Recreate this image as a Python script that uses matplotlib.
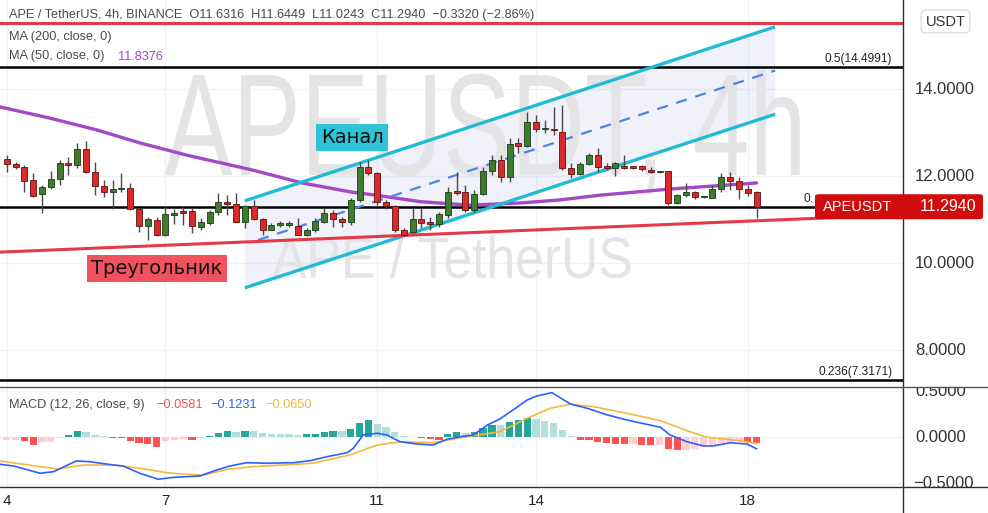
import numpy as np
import matplotlib.pyplot as plt
from matplotlib.lines import Line2D
from matplotlib.patches import FancyBboxPatch, PathPatch, Polygon
from matplotlib.textpath import TextPath
from matplotlib.font_manager import FontProperties
from matplotlib.transforms import Affine2D, blended_transform_factory

# 4h candles, index 0 = day 4 00:00
opens = [12.38, 12.28, 12.20, 11.91, 11.59, 11.74, 11.92, 12.31, 12.25, 12.62,
         12.10, 11.78, 11.63, 11.69, 11.72, 11.23, 10.86, 11.00, 10.64, 11.11,
         11.19, 11.19, 10.83, 10.93, 11.17, 11.40, 11.36, 10.95, 11.32, 11.01,
         10.76, 10.88, 10.88, 10.86, 10.64, 10.75, 10.95, 11.14, 11.01, 10.95,
         11.44, 12.20, 12.06, 11.40, 11.31, 10.77, 10.71, 11.01, 10.95, 10.89,
         11.10, 11.63, 11.63, 11.22, 11.59, 12.12, 12.37, 11.98, 12.75, 12.70,
         13.24, 13.07, 13.06, 13.02, 12.18, 12.04, 12.28, 12.48, 12.23, 12.18,
         12.23, 12.21, 12.23, 12.14, 12.09, 12.12, 11.37, 11.56, 11.64, 11.51,
         11.50, 11.69, 11.97, 11.89, 11.69, 11.6316]
highs = [12.48, 12.33, 12.25, 12.06, 11.79, 12.12, 12.37, 12.44, 12.75, 12.81,
         12.33, 11.91, 11.91, 12.06, 11.83, 11.24, 11.05, 11.05, 11.28, 11.24,
         11.28, 11.26, 11.03, 11.22, 11.62, 11.56, 11.60, 11.33, 11.45, 11.03,
         10.91, 10.97, 10.96, 11.03, 10.80, 11.03, 11.26, 11.22, 11.06, 11.49,
         12.33, 12.37, 12.09, 11.45, 11.33, 10.81, 11.26, 11.26, 11.06, 11.18,
         11.75, 12.10, 11.79, 11.68, 12.21, 12.48, 12.48, 12.88, 12.88, 13.48,
         13.40, 13.29, 13.59, 13.63, 12.29, 12.33, 12.52, 12.64, 12.29, 12.33,
         12.48, 12.24, 12.25, 12.20, 12.12, 12.12, 11.59, 11.85, 11.66, 11.53,
         11.79, 12.06, 12.10, 11.98, 11.79, 11.6449]
lows = [12.09, 12.15, 11.63, 11.52, 11.15, 11.70, 11.79, 12.02, 12.18, 12.06,
        11.56, 11.52, 11.24, 11.63, 11.22, 10.72, 10.53, 10.62, 10.62, 10.90,
        10.87, 10.68, 10.76, 10.87, 11.10, 11.10, 10.95, 10.80, 10.99, 10.64,
        10.76, 10.82, 10.82, 10.64, 10.62, 10.72, 10.93, 10.83, 10.83, 10.87,
        11.41, 12.02, 11.33, 11.24, 10.72, 10.61, 10.68, 10.80, 10.76, 10.83,
        11.03, 11.56, 11.18, 11.18, 11.56, 12.02, 11.87, 11.87, 12.52, 12.67,
        13.02, 12.98, 12.94, 12.14, 11.95, 12.02, 12.25, 12.10, 12.14, 12.00,
        12.15, 12.17, 12.12, 12.06, 12.06, 11.33, 11.36, 11.52, 11.46, 11.49,
        11.49, 11.64, 11.68, 11.46, 11.54, 11.0243]
closes = [12.28, 12.20, 11.89, 11.55, 11.74, 11.92, 12.29, 12.25, 12.62, 12.10,
          11.78, 11.63, 11.69, 11.70, 11.23, 10.86, 11.01, 10.64, 11.12, 11.14,
          11.15, 10.85, 10.95, 11.18, 11.40, 11.35, 10.95, 11.32, 11.01, 10.76,
          10.87, 10.88, 10.88, 10.64, 10.76, 10.97, 11.14, 11.01, 10.95, 11.45,
          12.20, 12.06, 11.41, 11.32, 10.76, 10.64, 11.01, 10.93, 10.89, 11.12,
          11.63, 11.62, 11.22, 11.59, 12.12, 12.37, 11.98, 12.73, 12.70, 13.24,
          13.07, 13.07, 13.05, 12.18, 12.04, 12.28, 12.48, 12.21, 12.18, 12.29,
          12.18, 12.19, 12.15, 12.09, 12.09, 11.37, 11.56, 11.64, 11.51, 11.51,
          11.69, 11.97, 11.89, 11.69, 11.62, 11.2940]

day_ticks = [0, 18, 42, 60, 84]
day_labels = ['4', '7', '11', '14', '18']
price_ticks = [14, 12, 10, 8]
price_labels = ['14.0000', '12.0000', '10.0000', '8.0000']
macd_ticks = [0.5, 0.0, -0.5]
macd_labels = ['0.5000', '0.0000', '\u22120.5000']

# MA 50 (sampled along the curve)
ma_x = [-0.8, 4.9, 10.2, 15.1, 20.4, 27.8, 33.5, 39.1, 41.8, 46.9, 52.5, 58.2, 62.7, 67.3, 75.2, 85]
ma_y = [13.59, 13.33, 13.06, 12.76, 12.48, 12.14, 11.84, 11.63, 11.56, 11.41, 11.33, 11.38,
        11.45, 11.56, 11.70, 11.84]

# MACD histogram, one bar per candle
hist = [-0.025, -0.022, -0.043, -0.080, -0.051, -0.051, -0.011, 0.029, 0.073, 0.058,
        0.029, 0.014, -0.008, -0.011, -0.036, -0.062, -0.068, -0.098, -0.043, -0.025,
        -0.014, -0.025, -0.008, 0.018, 0.054, 0.073, 0.062, 0.073, 0.073, 0.054,
        0.036, 0.036, 0.036, 0.029, 0.036, 0.038, 0.058, 0.073, 0.073, 0.095,
        0.155, 0.185, 0.149, 0.112, 0.058, 0.018, 0.005, -0.008, -0.014, -0.025,
        0.040, 0.065, 0.047, 0.065, 0.101, 0.138, 0.134, 0.171, 0.188, 0.207,
        0.199, 0.182, 0.152, 0.079, 0.014, -0.029, -0.031, -0.047, -0.065, -0.067,
        -0.076, -0.076, -0.084, -0.086, -0.084, -0.127, -0.138, -0.138, -0.127, -0.101,
        -0.084, -0.065, -0.047, -0.036, -0.047, -0.058]
macd_x = [-0.8, 0.8, 3.8, 5.3, 7.9, 9.4, 12.1, 13.2, 15.1, 17.2, 18.9, 21.9, 23.8, 25.3,
          27.2, 29.5, 32.5, 34.4, 36.3, 38.6, 39.3, 40.4, 42.0, 43.1, 44.6, 46.5, 48.3,
          49.9, 51.4, 52.9, 54.5, 55.9, 57.4, 59.0, 60.1, 61.8, 63.9, 65.8, 68.1, 70.3,
          74.1, 75.2, 77.1, 79.0, 80.1, 82.0, 83.9, 85.0]
macd_v = [-0.291, -0.310, -0.389, -0.372, -0.255, -0.263, -0.299, -0.310, -0.389, -0.454,
          -0.433, -0.418, -0.353, -0.310, -0.274, -0.280, -0.274, -0.252, -0.209, -0.165,
          -0.117, 0.027, 0.046, 0.027, -0.046, -0.071, -0.082, -0.020, 0.009, 0.027,
          0.136, 0.201, 0.299, 0.408, 0.451, 0.487, 0.364, 0.317, 0.245, 0.190,
          0.111, 0.027, -0.046, -0.092, -0.092, -0.057, -0.071, -0.1231]
sig_x = [-0.8, 3.8, 5.7, 8.7, 12.1, 15.1, 18.2, 20.4, 22.3, 25.0, 27.9, 31.3, 34.7, 38.9,
         42.0, 44.6, 48.3, 52.2, 55.9, 59.0, 61.6, 63.9, 66.5, 70.3, 74.1, 77.1, 79.4,
         82.4, 85.0]
sig_v = [-0.255, -0.317, -0.342, -0.299, -0.299, -0.335, -0.383, -0.400, -0.408, -0.346,
         -0.317, -0.299, -0.280, -0.190, -0.082, -0.046, -0.057, 0.009, 0.063, 0.209,
         0.317, 0.361, 0.335, 0.263, 0.183, 0.074, 0.002, -0.027, -0.065]

# drawings
channel_x = [27.0, 87.1]
channel_upper = [11.43, 15.43]
channel_lower = [9.43, 13.42]
channel_mid_start = 28.5
tri_top = 15.52
tri_low_x = [-0.76, 101.6]
tri_low_y = [10.25, 11.11]
fib_levels = [14.4991, 11.29, 7.3171]
fib_labels = ['0.5(14.4991)', '', '0.236(7.3171)']

W, H = 988, 513
FONT = 'Liberation Sans'
plt.rcParams['font.family'] = [FONT, 'DejaVu Sans']

fig = plt.figure(figsize=(W / 100, H / 100), dpi=100)
fig.patch.set_facecolor('white')

pane_bot = 386.5
ax = fig.add_axes([0, 1 - pane_bot / H, 903 / W, pane_bot / H])
axm = fig.add_axes([0, 1 - 487 / H, 903 / W, (487 - pane_bot) / H])
axr = fig.add_axes([903 / W, 1 - pane_bot / H, 85 / W, pane_bot / H])
axmr = fig.add_axes([903 / W, 1 - 487 / H, 85 / W, (487 - pane_bot) / H])

xlim = (-0.76, 101.6)
ylim = (7.161, 16.046)
mlim = (-0.538, 0.554)
for a in (ax, axm, axr, axmr):
    for s in a.spines.values():
        s.set_visible(False)
    a.set_facecolor('none')
ax.set_xlim(*xlim); ax.set_ylim(*ylim)
axm.set_xlim(*xlim); axm.set_ylim(*mlim)
axr.set_xlim(0, 1); axr.set_ylim(*ylim)
axmr.set_xlim(0, 1); axmr.set_ylim(*mlim)
for a in (ax, axr, axmr):
    a.set_xticks([]); a.set_yticks([])
axm.set_yticks([])

grid_c = '#f0f2f7'
for d in day_ticks:
    ax.axvline(d, color=grid_c, lw=1, zorder=0)
    axm.axvline(d, color=grid_c, lw=1, zorder=0)
for p in price_ticks:
    ax.axhline(p, color=grid_c, lw=1, zorder=0)
for m in macd_ticks:
    axm.axhline(m, color=grid_c, lw=1, zorder=0)

# watermark text
def watermark(s, x0, x1, ybase, ytop):
    fp = FontProperties(family=FONT)
    tp = TextPath((0, 0), s, size=1, prop=fp)
    ext = tp.get_extents()
    cap = TextPath((0, 0), 'A', size=1, prop=fp).get_extents().y1
    tr = Affine2D().translate(-ext.x0, 0).scale((x1 - x0) / ext.width, (ytop - ybase) / cap).translate(x0, ybase)
    ax.add_patch(PathPatch(tr.transform_path(tp), fc='#e4e4e6', ec='none', zorder=0.6))

watermark('APEUSDT, 4h', 17.9, 89.9, 12.02, 14.32)
watermark('APE / TetherUS', 30.1, 70.7, 9.66, 10.58)

# channel
cx = np.array(channel_x)
poly = Polygon([(cx[0], channel_lower[0]), (cx[1], channel_lower[1]),
                (cx[1], channel_upper[1]), (cx[0], channel_upper[0])],
               closed=True, fc='#5c6bc0', alpha=0.09, ec='none', zorder=0.5)
ax.add_patch(poly)
ax.plot(cx, channel_upper, color='#1fbcd3', lw=2.4, zorder=3, solid_capstyle='butt')
ax.plot(cx, channel_lower, color='#1fbcd3', lw=2.4, zorder=3, solid_capstyle='butt')
mid = (np.array(channel_upper) + np.array(channel_lower)) / 2
mx = np.array([channel_mid_start, cx[1]])
ax.plot(mx, np.interp(mx, cx, mid), color='#4f83e6', lw=1.6, ls=(0, (5, 4)), zorder=3)

# triangle
ax.axhline(tri_top, color='#e5394a', lw=2.2, zorder=4)
ax.plot(tri_low_x, tri_low_y, color='#e5394a', lw=2.2, zorder=3)

# fib levels
for lv, lab in zip(fib_levels, fib_labels):
    ax.axhline(lv, color='black', lw=1.8, zorder=2.5)
    if lab:
        ax.text(0.988, lv + 0.05, lab, transform=blended_transform_factory(ax.transAxes, ax.transData),
                ha='right', va='bottom', fontsize=8.6, color='#222')
ax.text(90.3, fib_levels[1] + 0.05, '0.', ha='left', va='bottom', fontsize=8.6, color='#222')

# MA50
ax.plot(ma_x, ma_y, color='#a449c6', lw=2.4, zorder=2.6, solid_capstyle='round')

# candles
idx = np.arange(len(opens))
o = np.array(opens); c = np.array(closes)
up = c >= o
body_lo = np.minimum(o, c)
body_h = np.maximum(np.abs(c - o), 0.035)
ax.vlines(idx, lows, highs, color='#4a4a4a', lw=1, zorder=4)
ax.bar(idx[up], body_h[up], bottom=body_lo[up], width=0.68, color='#3f7d2e',
       edgecolor='#1d3a16', lw=0.6, zorder=5)
ax.bar(idx[~up], body_h[~up], bottom=body_lo[~up], width=0.68, color='#d92b2b',
       edgecolor='#5c1010', lw=0.6, zorder=5)

# annotation labels
ax.text(39.15, 12.885, 'Канал', ha='center', va='center', fontsize=14, color='#111',
        family='DejaVu Sans', zorder=6,
        bbox=dict(boxstyle='square,pad=0.22', fc='#2ec4d6', ec='none'))
ax.text(17.04, 9.874, 'Треугольник', ha='center', va='center', fontsize=14, color='#111',
        family='DejaVu Sans', zorder=6,
        bbox=dict(boxstyle='square,pad=0.22', fc='#f0525e', ec='none'))

# header texts
def apt(px, py):
    return px / 903, 1 - py / pane_bot

ax.text(*apt(9, 15), 'APE / TetherUS, 4h, BINANCE  O11.6316  H11.6449  L11.0243  C11.2940  \u22120.3320 (\u22122.86%)',
        transform=ax.transAxes, fontsize=9.2, color='#4a4a4a', va='center', zorder=1)
ax.text(*apt(9, 37), 'MA (200, close, 0)', transform=ax.transAxes, fontsize=9.2,
        color='#4a4a4a', va='center', zorder=1)
ax.text(*apt(9, 56.5), 'MA (50, close, 0)', transform=ax.transAxes, fontsize=9.2,
        color='#4a4a4a', va='center', zorder=1)
ax.text(*apt(118, 56.5), '11.8376', transform=ax.transAxes, fontsize=9.2,
        color='#a449c6', va='center', zorder=1)

# MACD pane
hist_a = np.array(hist)
prev = np.concatenate([[hist_a[0]], hist_a[:-1]])
cols = np.where(hist_a >= 0, np.where(hist_a > prev, '#26a69a', '#b2dfdb'),
                np.where(hist_a < prev, '#ff5252', '#ffcdd2'))
axm.bar(idx, hist_a, width=0.82, color=cols, zorder=2)
axm.plot(sig_x, sig_v, color='#f5b83d', lw=1.2, zorder=3)
axm.plot(macd_x, macd_v, color='#2962ff', lw=1.2, zorder=4)

def mpt(px, py):
    return px / 903, 1 - (py - pane_bot) / (487 - pane_bot)

axm.text(*mpt(9, 405), 'MACD (12, 26, close, 9)', transform=axm.transAxes, fontsize=9.2,
         color='#4a4a4a', va='center')
for px, s, col in [(156, '\u22120.0581', '#ef5350'), (210.5, '\u22120.1231', '#2962ff'),
                   (265, '\u22120.0650', '#f5b83d')]:
    axm.text(*mpt(px, 405), s, transform=axm.transAxes, fontsize=9.2, color=col, va='center')

axm.set_xticks(day_ticks)
axm.set_xticklabels(day_labels)
axm.tick_params(axis='x', length=0, pad=5, labelsize=11, labelcolor='#222')

# price scales
for p, lab in zip(price_ticks, price_labels):
    axr.text(0.141, p, lab, fontsize=12, color='#333', va='center', ha='left', clip_on=True)
for m, lab in zip(macd_ticks, macd_labels):
    axmr.text(0.141 if m >= 0 else 0.115, m, lab, fontsize=12, color='#333', va='center',
              ha='left', clip_on=True)
axr.text(0.5, 1 - 21.5 / pane_bot, 'USDT', transform=axr.transAxes, fontsize=10.5, color='#333',
         ha='center', va='center',
         bbox=dict(boxstyle='round,pad=0.3,rounding_size=0.3', fc='white', ec='#d6d6d6', lw=0.8))

# last price label
ly = fig.transFigure.inverted().transform(ax.transData.transform((0, closes[-1])))[1]
lh = 25 / H
fig.add_artist(FancyBboxPatch((815 / W, ly - lh / 2), 168 / W, lh,
                              boxstyle='round,pad=0,rounding_size=0.004',
                              transform=fig.transFigure, fc='#d10c0c', ec='none', zorder=10))
fig.text(823 / W, ly, 'APEUSDT', color='white', fontsize=10.5, va='center', ha='left', zorder=11)
fig.text(976 / W, ly, '11.2940', color='white', fontsize=11.5, va='center', ha='right', zorder=11)

# separators
fig.add_artist(Line2D([903 / W, 903 / W], [0, 1], transform=fig.transFigure, color='#2a2e39', lw=1))
fig.add_artist(Line2D([0, 1], [1 - 487 / H] * 2, transform=fig.transFigure, color='#2a2e39', lw=1))
fig.add_artist(Line2D([0, 1], [1 - pane_bot / H] * 2, transform=fig.transFigure, color='#50535e', lw=1))

fig.savefig('out.png', dpi=100, facecolor='white')
